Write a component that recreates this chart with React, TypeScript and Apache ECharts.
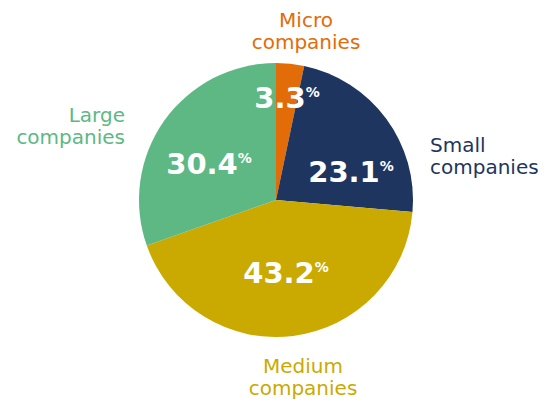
import React, { useEffect, useRef } from "react";
import * as echarts from "echarts";

const categories = ["Micro\ncompanies", "Small\ncompanies", "Medium\ncompanies", "Large\ncompanies"];
const shares = [3.3, 23.1, 43.2, 30.4];
const colors = ["#E26C08", "#1E3560", "#CAAA00", "#5DB884"];

const valueLabelPos = [[287, 98], [351, 172], [286, 273], [209, 164]];
const nameLabelPos = [[306, 31], [430, 156], [303, 377], [125, 126]];
const nameAlign = ["center", "left", "center", "right"];

export default function App() {
  const ref = useRef<HTMLDivElement>(null);
  useEffect(() => {
    if (!ref.current) return;
    const chart = echarts.init(ref.current, undefined, { renderer: "svg" });
    const data = categories.map((name, i) => ({
      name,
      value: shares[i],
      itemStyle: { color: colors[i] },
      label: { color: colors[i] },
    }));
    chart.setOption({
      animation: false,
      backgroundColor: "#ffffff",
      series: [
        {
          type: "pie",
          center: [276, 200],
          radius: 137,
          startAngle: 90,
          clockwise: true,
          silent: true,
          data: data.map((d) => ({ ...d, label: undefined })),
          label: {
            show: true,
            position: "inside",
            formatter: (p: any) => `{v|${p.value.toFixed(1)}}{p|%}`,
            rich: {
              v: {
                fontFamily: "DejaVu Sans",
                fontWeight: "bold",
                fontSize: 29,
                color: "#ffffff",
                lineHeight: 34,
              },
              p: {
                fontFamily: "DejaVu Sans",
                fontWeight: "bold",
                fontSize: 14,
                color: "#ffffff",
                lineHeight: 34,
                padding: [0, 0, 12, 0],
              },
            },
          },
          labelLine: { show: false },
          labelLayout: (p: any) => ({
            x: valueLabelPos[p.dataIndex][0],
            y: valueLabelPos[p.dataIndex][1],
            align: "center",
            verticalAlign: "middle",
          }),
        },
        {
          type: "pie",
          center: [276, 200],
          radius: 137,
          startAngle: 90,
          clockwise: true,
          silent: true,
          data: data.map((d) => ({ ...d, itemStyle: { color: "rgba(0,0,0,0)" } })),
          label: {
            show: true,
            position: "outside",
            formatter: "{b}",
            fontFamily: "DejaVu Sans",
            fontSize: 20,
            lineHeight: 22,
            overflow: "none",
            width: 200,
          },
          labelLine: { show: false },
          labelLayout: (p: any) => ({
            x: nameLabelPos[p.dataIndex][0],
            y: nameLabelPos[p.dataIndex][1],
            align: nameAlign[p.dataIndex],
            verticalAlign: "middle",
            width: 200,
          }),
        },
      ],
    });
    return () => chart.dispose();
  }, []);
  return (
    <div
      ref={ref}
      style={{ position: "absolute", left: 0, top: 0, width: 547, height: 403 }}
    />
  );
}
